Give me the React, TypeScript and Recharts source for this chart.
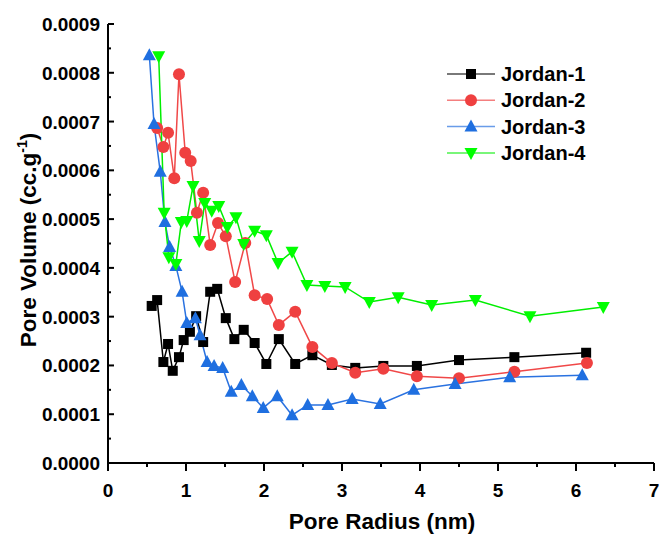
import React from "react";
import { LineChart, Line, XAxis, YAxis } from "recharts";

const FONT = '"Liberation Sans", Arial, sans-serif';

// Jordan-1
const j1X = [0.56, 0.63, 0.71, 0.77, 0.83, 0.91, 0.97, 1.05, 1.13, 1.22, 1.31, 1.4, 1.51, 1.62, 1.74, 1.88, 2.03, 2.19, 2.4, 2.62, 2.87, 3.17, 3.53, 3.96, 4.5, 5.21, 6.13];
const j1Y = [3.22, 3.34, 2.07, 2.44, 1.89, 2.17, 2.52, 2.69, 3.01, 2.48, 3.51, 3.57, 2.97, 2.54, 2.73, 2.46, 2.03, 2.54, 2.03, 2.21, 2.01, 1.95, 1.99, 1.99, 2.11, 2.17, 2.26];
// Jordan-2
const j2X = [0.63, 0.71, 0.77, 0.85, 0.91, 0.99, 1.06, 1.14, 1.22, 1.31, 1.41, 1.51, 1.63, 1.76, 1.88, 2.04, 2.19, 2.4, 2.62, 2.87, 3.17, 3.53, 3.96, 4.5, 5.21, 6.14];
const j2Y = [6.87, 6.48, 6.77, 5.84, 7.97, 6.36, 6.19, 5.13, 5.54, 4.47, 4.92, 4.65, 3.71, 4.51, 3.44, 3.36, 2.83, 3.1, 2.38, 2.05, 1.85, 1.93, 1.78, 1.74, 1.87, 2.05];
// Jordan-3
const j3X = [0.53, 0.59, 0.67, 0.73, 0.79, 0.87, 0.95, 1.01, 1.12, 1.18, 1.27, 1.36, 1.47, 1.58, 1.71, 1.85, 1.99, 2.17, 2.36, 2.56, 2.82, 3.13, 3.49, 3.92, 4.45, 5.15, 6.08];
const j3Y = [8.36, 6.95, 5.97, 4.94, 4.43, 4.04, 3.51, 2.87, 2.97, 2.62, 2.07, 1.99, 1.95, 1.46, 1.6, 1.37, 1.13, 1.37, 0.98, 1.19, 1.19, 1.31, 1.21, 1.5, 1.62, 1.76, 1.8];
// Jordan-4
const j4X = [0.65, 0.72, 0.78, 0.87, 0.94, 1.01, 1.09, 1.17, 1.24, 1.33, 1.42, 1.53, 1.64, 1.74, 1.88, 2.03, 2.18, 2.36, 2.55, 2.78, 3.04, 3.35, 3.72, 4.15, 4.71, 5.41, 6.35];
const j4Y = [8.34, 5.13, 4.22, 4.08, 4.94, 4.96, 5.68, 4.55, 5.33, 5.17, 5.27, 4.84, 5.04, 4.49, 4.76, 4.67, 4.1, 4.33, 3.65, 3.63, 3.61, 3.3, 3.4, 3.24, 3.34, 3.01, 3.2];

const xTicks = [0, 0.5, 1, 1.5, 2, 2.5, 3, 3.5, 4, 4.5, 5, 5.5, 6, 6.5, 7];
const yTicks = [0, 0.00005, 0.0001, 0.00015, 0.0002, 0.00025, 0.0003, 0.00035, 0.0004, 0.00045, 0.0005, 0.00055, 0.0006, 0.00065, 0.0007, 0.00075, 0.0008, 0.00085, 0.0009];

// y values above are read in units of 1e-4 cc/g
const toRows = (xs: number[], ys: number[]) => xs.map((x, i) => ({ x, y: ys[i] * 0.0001 }));

const series = [
  { name: "Jordan-1", data: toRows(j1X, j1Y), line: "#000000", fill: "#000000", shape: "square" },
  { name: "Jordan-2", data: toRows(j2X, j2Y), line: "#f04848", fill: "#ef4040", shape: "circle" },
  { name: "Jordan-3", data: toRows(j3X, j3Y), line: "#2a72e0", fill: "#1f6fe0", shape: "up" },
  { name: "Jordan-4", data: toRows(j4X, j4Y), line: "#00ee00", fill: "#00ff00", shape: "down" },
];

function Marker({ cx, cy, shape, fill }: any) {
  if (cx == null || cy == null) return null;
  if (shape === "square") return <rect x={cx - 5} y={cy - 5} width={10} height={10} fill={fill} />;
  if (shape === "circle") return <circle cx={cx} cy={cy} r={6} fill={fill} />;
  if (shape === "up")
    return <polygon points={`${cx},${cy - 7} ${cx - 6.5},${cy + 5} ${cx + 6.5},${cy + 5}`} fill={fill} />;
  return <polygon points={`${cx},${cy + 7} ${cx - 6.5},${cy - 5} ${cx + 6.5},${cy - 5}`} fill={fill} />;
}

function XTick({ x, y, payload }: any) {
  const v = payload.value;
  const major = Number.isInteger(v);
  return (
    <g>
      <line x1={x} y1={y} x2={x} y2={y + (major ? 8 : 4)} stroke="#000" strokeWidth={2} />
      {major && (
        <text x={x} y={y + 34} textAnchor="middle" fontFamily={FONT} fontWeight="bold" fontSize={19} fill="#000">
          {v}
        </text>
      )}
    </g>
  );
}

function YTick({ x, y, payload }: any) {
  const v = payload.value;
  const major = Math.round(v / 0.00005) % 2 === 0;
  return (
    <g>
      <line x1={x} y1={y} x2={x + (major ? 6 : 3)} y2={y} stroke="#000" strokeWidth={2} />
      {major && (
        <text x={x - 8} y={y + 7} textAnchor="end" fontFamily={FONT} fontWeight="bold" fontSize={19} fill="#000">
          {v.toFixed(4)}
        </text>
      )}
    </g>
  );
}

function LegendBox() {
  return (
    <svg width={200} height={110} style={{ position: "absolute", left: 440, top: 58 }}>
      {series.map((s, i) => {
        const y = 16 + i * 26.3;
        return (
          <g key={s.name}>
            <line x1={7} y1={y} x2={55} y2={y} stroke={s.line} strokeWidth={1.5} strokeOpacity={0.7} />
            <Marker cx={31} cy={y} shape={s.shape} fill={s.fill} />
            <text x={61} y={y + 7} fontFamily={FONT} fontWeight="bold" fontSize={20} fill="#000">
              {s.name}
            </text>
          </g>
        );
      })}
    </svg>
  );
}

export default function App() {
  return (
    <div style={{ position: "absolute", left: 0, top: 0, width: 664, height: 534, background: "#fff" }}>
      <LineChart width={664} height={534} margin={{ top: 24, right: 10, bottom: 0, left: 0 }}>
        <XAxis
          type="number"
          dataKey="x"
          domain={[0, 7]}
          ticks={xTicks}
          interval={0}
          height={71}
          tickSize={0}
          tickMargin={0}
          tickLine={false}
          axisLine={{ stroke: "#000", strokeWidth: 2 }}
          tick={<XTick />}
          label={{
            content: () => (
              <text x={382} y={529} textAnchor="middle" fontFamily={FONT} fontWeight="bold" fontSize={22.5} fill="#000">
                Pore Radius (nm)
              </text>
            ),
          }}
        />
        <YAxis
          type="number"
          domain={[0, 0.0009]}
          ticks={yTicks}
          interval={0}
          width={108}
          tickSize={0}
          tickMargin={0}
          tickLine={false}
          axisLine={{ stroke: "#000", strokeWidth: 2 }}
          tick={<YTick />}
          label={{
            content: () => (
              <text
                x={36}
                y={240}
                transform="rotate(-90, 36, 240)"
                textAnchor="middle"
                fontFamily={FONT}
                fontWeight="bold"
                fontSize={22.5}
                fill="#000"
              >
                Pore Volume (cc.g
                <tspan dy={-9} fontSize={14}>-1</tspan>
                <tspan dy={9} fontSize={22.5}>)</tspan>
              </text>
            ),
          }}
        />
        {series.map((s) => (
          <Line
            key={s.name}
            name={s.name}
            data={s.data}
            dataKey="y"
            type="linear"
            stroke={s.line}
            strokeWidth={1.5}
            isAnimationActive={false}
            dot={(p: any) => <Marker key={`${s.name}-${p.index}`} cx={p.cx} cy={p.cy} shape={s.shape} fill={s.fill} />}
            activeDot={false}
          />
        ))}
      </LineChart>
      <LegendBox />
    </div>
  );
}
